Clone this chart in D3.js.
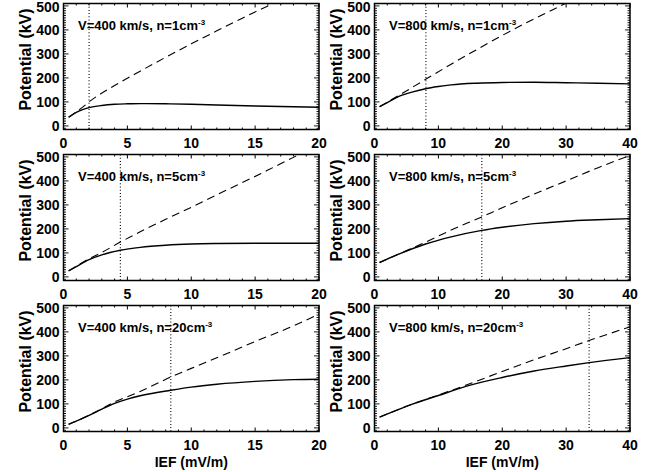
<!DOCTYPE html>
<html><head><meta charset="utf-8">
<script src="https://cdn.jsdelivr.net/npm/d3@7"></script>
<style>body{margin:0;background:#fff}svg{display:block}</style>
</head><body>
<svg id="c" width="660" height="472"></svg>
<script>
// ---- data ----
const panelLabels = ["V=400 km/s, n=1cm", "V=800 km/s, n=1cm", "V=400 km/s, n=5cm", "V=800 km/s, n=5cm", "V=400 km/s, n=20cm", "V=800 km/s, n=20cm"];
const xMaxes = [20, 40, 20, 40, 20, 40];
const xMajorTicks = [[0,5,10,15,20],[0,10,20,30,40]];
const yTicks = [0,100,200,300,400,500];
const dottedX = [2.0, 8.05, 4.45, 16.8, 8.4, 33.6];

const solid1 = [[0.4,36],[1,56],[1.5,68],[2,76],[3,85],[4,90],[5,92],[6,93],[8,92],[10,90],[12,87],[15,83],[18,80],[20,78]];
const dash1  = [[0.4,36],[1,58],[1.5,78],[2,100],[4,168],[6,228],[8,286],[10,342],[12,396],[14,449],[16,500],[17,525]];
const solid2 = [[0.8,80],[2,97],[4,125],[6,142],[8,155],[10,164],[12,171],[16,178],[20,181],[25,182],[30,180],[35,178],[40,175]];
const dash2  = [[0.8,80],[2,99],[4,130],[8,194],[12,257],[16,318],[20,377],[24,433],[28,485],[31,525]];
const solid3 = [[0.4,25],[1,43],[2,72],[3,92],[4.45,111],[6,123],[8,132],[10,137],[12,139],[15,140],[20,140]];
const dash3  = [[0.4,25],[1,44],[2,76],[3,102],[4.45,145],[6,188],[8,240],[10,290],[12,342],[14,393],[16,445],[18,498],[19,524]];
const solid4 = [[0.8,60],[4,97],[8,137],[12,167],[16.8,194],[20,207],[25,222],[30,232],[35,238],[40,243]];
const dash4  = [[0.8,60],[4,98],[8,145],[12,195],[16.8,250],[20,288],[25,345],[30,400],[35,455],[40,506]];
const solid5 = [[0.4,15],[1,28],[2,52],[3,78],[4,102],[5,120],[6,134],[8.4,157],[10,170],[12,182],[15,194],[18,201],[20,203]];
const dash5  = [[0.4,15],[1,28],[2,53],[3,80],[4,108],[5,130],[6,152],[8.4,212],[10,248],[12,292],[15,360],[18,425],[20,474]];
const solid6 = [[0.8,45],[5,90],[10,135],[15,178],[20,210],[25,237],[30,258],[33.6,272],[40,293]];
const dash6  = [[0.8,45],[5,90],[10,137],[12,156],[15,185],[20,235],[25,284],[30,330],[33.6,364],[40,421]];

const solids = [solid1, solid2, solid3, solid4, solid5, solid6];
const dashes = [dash1, dash2, dash3, dash4, dash5, dash6];

// ---- layout ----
const rowTops = [3.5, 154.5, 305.5];
const colLefts = [63.5, 374.5];
const pw = 255.5, ph = 126;
const svg = d3.select("#c");
const FONT = "'Liberation Sans', Arial, Helvetica, sans-serif";

panelLabels.forEach((lab, i) => {
  const r = Math.floor(i / 2), c = i % 2;
  const x0 = colLefts[c], y0 = rowTops[r];
  const xs = d3.scaleLinear().domain([0, xMaxes[i]]).range([x0, x0 + pw]);
  const ys = d3.scaleLinear().domain([-15, 510]).range([y0 + ph, y0]);
  const g = svg.append("g");
  const cid = "clip" + i;
  svg.append("clipPath").attr("id", cid).append("rect")
    .attr("x", x0).attr("y", y0).attr("width", pw).attr("height", ph);

  const line = d3.line().x(d => xs(d[0])).y(d => ys(d[1])).curve(d3.curveMonotoneX);
  const pg = g.append("g").attr("clip-path", `url(#${cid})`);
  pg.append("path").attr("d", line(dashes[i])).attr("fill", "none")
    .attr("stroke", "#000").attr("stroke-width", 1.1).attr("stroke-dasharray", "8,5");
  pg.append("path").attr("d", line(solids[i])).attr("fill", "none")
    .attr("stroke", "#000").attr("stroke-width", 1.4);
  pg.append("line").attr("x1", xs(dottedX[i])).attr("x2", xs(dottedX[i]))
    .attr("y1", y0).attr("y2", y0 + ph).attr("stroke", "#000")
    .attr("stroke-width", 1.1).attr("stroke-dasharray", "1,2.2");

  // box
  g.append("rect").attr("x", x0).attr("y", y0).attr("width", pw).attr("height", ph)
    .attr("fill", "none").attr("stroke", "#000").attr("stroke-width", 1.5);

  // ticks
  const xm = xMajorTicks[c];
  const xStep = xm[1] - xm[0];
  const xMinor = d3.range(0, xMaxes[i] + 1e-9, xStep / 5);
  xMinor.forEach(v => {
    const major = xm.some(t => Math.abs(t - v) < 1e-9);
    const L = major ? 4 : 2;
    g.append("line").attr("x1", xs(v)).attr("x2", xs(v)).attr("y1", y0 + ph).attr("y2", y0 + ph - L).attr("stroke", "#000");
    g.append("line").attr("x1", xs(v)).attr("x2", xs(v)).attr("y1", y0).attr("y2", y0 + L).attr("stroke", "#000");
  });
  d3.range(-10, 511, 10).forEach(v => {
    const major = v % 100 === 0;
    const L = major ? 5 : 2.5;
    g.append("line").attr("x1", x0).attr("x2", x0 + L).attr("y1", ys(v)).attr("y2", ys(v)).attr("stroke", "#000").attr("stroke-width", 0.9);
    g.append("line").attr("x1", x0 + pw).attr("x2", x0 + pw - L).attr("y1", ys(v)).attr("y2", ys(v)).attr("stroke", "#000").attr("stroke-width", 0.9);
  });

  // tick labels
  xm.forEach(t => {
    g.append("text").attr("x", xs(t)).attr("y", y0 + ph + 18).attr("text-anchor", "middle")
      .attr("font-family", FONT).attr("font-weight", "bold").attr("font-size", 14).text(t);
  });
  yTicks.forEach(t => {
    g.append("text").attr("x", x0 - 4).attr("y", Math.max(ys(t) + 5, 11.5)).attr("text-anchor", "end")
      .attr("font-family", FONT).attr("font-weight", "bold").attr("font-size", 14).text(t);
  });

  // y title
  const cy = y0 + ph / 2 - 7;
  g.append("text").attr("transform", `translate(${x0 - 33},${cy}) rotate(-90)`)
    .attr("text-anchor", "middle").attr("font-family", FONT).attr("font-weight", "bold")
    .attr("font-size", 16).text("Potential (kV)");

  // annotation
  const t = g.append("text").attr("x", x0 + 14.5).attr("y", ys(400))
    .attr("font-family", FONT).attr("font-weight", "bold").attr("font-size", 13);
  t.append("tspan").text(lab);
  t.append("tspan").attr("dy", -5).attr("font-size", 8).text("-3");

  if (r === 2) {
    g.append("text").attr("x", x0 + pw / 2).attr("y", y0 + ph + 35).attr("text-anchor", "middle")
      .attr("font-family", FONT).attr("font-weight", "bold").attr("font-size", 14).text("IEF (mV/m)");
  }
});
</script>
</body></html>
